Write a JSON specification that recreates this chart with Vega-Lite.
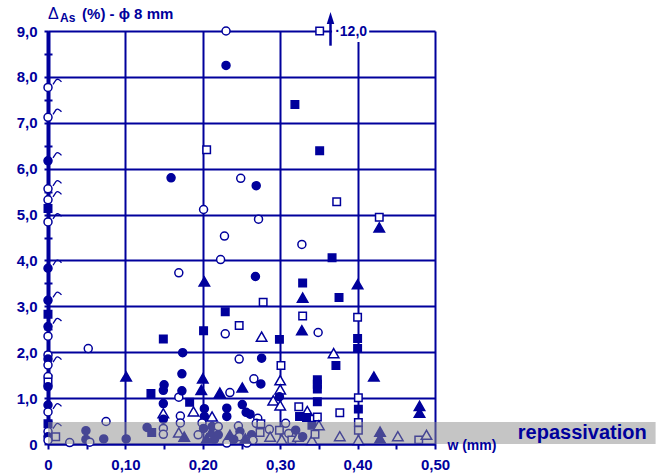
{
  "$schema": "https://vega.github.io/schema/vega-lite/v6.json",
  "width": 387,
  "height": 413,
  "autosize": "none",
  "padding": {"left": 48, "top": 31, "right": 224, "bottom": 31},
  "background": "white",
  "config": {"view": {"stroke": null}, "font": "Liberation Sans"},
  "datasets": {
    "pts": [
      {"w":0,"d":7.77,"form":"circle","fill":"hollow","hook":true},
      {"w":0,"d":7.12,"form":"circle","fill":"hollow","hook":true},
      {"w":0,"d":6.17,"form":"circle","fill":"solid","hook":true},
      {"w":0,"d":5.56,"form":"circle","fill":"hollow","hook":true},
      {"w":0,"d":5.32,"form":"circle","fill":"hollow","hook":true},
      {"w":0,"d":5.13,"form":"square","fill":"solid"},
      {"w":0,"d":4.84,"form":"circle","fill":"hollow","hook":true},
      {"w":0,"d":3.83,"form":"circle","fill":"solid","hook":true},
      {"w":0,"d":3.13,"form":"circle","fill":"solid","hook":true},
      {"w":0,"d":2.83,"form":"square","fill":"solid"},
      {"w":0,"d":2.56,"form":"circle","fill":"solid","hook":true},
      {"w":0,"d":2.35,"form":"circle","fill":"hollow"},
      {"w":0,"d":1.94,"form":"circle","fill":"hollow"},
      {"w":0,"d":1.85,"form":"circle","fill":"solid"},
      {"w":0,"d":1.72,"form":"circle","fill":"hollow","hook":true},
      {"w":0,"d":1.47,"form":"circle","fill":"hollow"},
      {"w":0,"d":1.35,"form":"square","fill":"hollow"},
      {"w":0,"d":1.25,"form":"circle","fill":"solid"},
      {"w":0,"d":0.85,"form":"circle","fill":"solid"},
      {"w":0,"d":0.70,"form":"circle","fill":"hollow","hook":true},
      {"w":0,"d":0.44,"form":"square","fill":"solid"},
      {"w":0,"d":0.27,"form":"circle","fill":"hollow","hook":true},
      {"w":0,"d":0.16,"form":"circle","fill":"solid"},
      {"w":0.01,"d":0.16,"form":"square","fill":"hollow"},
      {"w":0,"d":0.08,"form":"circle","fill":"hollow"},
      {"w":0.028,"d":0.03,"form":"circle","fill":"hollow"},
      {"w":0.049,"d":0.29,"form":"circle","fill":"solid"},
      {"w":0.049,"d":0.10,"form":"circle","fill":"solid"},
      {"w":0.054,"d":0.04,"form":"circle","fill":"hollow"},
      {"w":0.052,"d":2.08,"form":"circle","fill":"hollow"},
      {"w":0.075,"d":0.49,"form":"circle","fill":"hollow"},
      {"w":0.072,"d":0.11,"form":"circle","fill":"solid"},
      {"w":0.101,"d":0.11,"form":"circle","fill":"solid"},
      {"w":0.101,"d":1.47,"form":"triangle","fill":"solid"},
      {"w":0.128,"d":0.36,"form":"circle","fill":"solid"},
      {"w":0.134,"d":0.25,"form":"square","fill":"solid"},
      {"w":0.133,"d":1.10,"form":"square","fill":"solid"},
      {"w":0.149,"d":2.29,"form":"square","fill":"solid"},
      {"w":0.150,"d":1.29,"form":"circle","fill":"solid"},
      {"w":0.149,"d":1.17,"form":"circle","fill":"solid"},
      {"w":0.149,"d":0.88,"form":"circle","fill":"solid"},
      {"w":0.149,"d":0.67,"form":"triangle","fill":"hollow"},
      {"w":0.149,"d":0.54,"form":"circle","fill":"solid"},
      {"w":0.149,"d":0.34,"form":"circle","fill":"hollow"},
      {"w":0.149,"d":0.21,"form":"circle","fill":"hollow"},
      {"w":0.169,"d":1.02,"form":"circle","fill":"hollow"},
      {"w":0.169,"d":3.73,"form":"circle","fill":"hollow"},
      {"w":0.174,"d":1.99,"form":"circle","fill":"solid"},
      {"w":0.173,"d":1.53,"form":"circle","fill":"solid"},
      {"w":0.173,"d":1.16,"form":"circle","fill":"solid"},
      {"w":0.171,"d":0.61,"form":"circle","fill":"hollow"},
      {"w":0.171,"d":0.46,"form":"circle","fill":"hollow"},
      {"w":0.169,"d":0.25,"form":"triangle","fill":"hollow"},
      {"w":0.176,"d":0.16,"form":"triangle","fill":"solid"},
      {"w":0.183,"d":0.91,"form":"square","fill":"solid"},
      {"w":0.188,"d":0.71,"form":"triangle","fill":"hollow"},
      {"w":0.200,"d":1.43,"form":"triangle","fill":"solid"},
      {"w":0.198,"d":1.18,"form":"triangle","fill":"solid"},
      {"w":0.159,"d":5.80,"form":"circle","fill":"solid"},
      {"w":0.249,"d":5.79,"form":"circle","fill":"hollow"},
      {"w":0.269,"d":5.63,"form":"circle","fill":"solid"},
      {"w":0.205,"d":6.41,"form":"square","fill":"hollow"},
      {"w":0.351,"d":6.39,"form":"square","fill":"solid"},
      {"w":0.373,"d":5.28,"form":"square","fill":"hollow"},
      {"w":0.201,"d":5.11,"form":"circle","fill":"hollow"},
      {"w":0.428,"d":4.94,"form":"square","fill":"hollow"},
      {"w":0.428,"d":4.72,"form":"triangle","fill":"solid"},
      {"w":0.272,"d":4.90,"form":"circle","fill":"hollow"},
      {"w":0.228,"d":4.53,"form":"circle","fill":"hollow"},
      {"w":0.328,"d":4.35,"form":"circle","fill":"hollow"},
      {"w":0.367,"d":4.06,"form":"square","fill":"solid"},
      {"w":0.223,"d":4.02,"form":"circle","fill":"hollow"},
      {"w":0.319,"d":7.40,"form":"square","fill":"solid"},
      {"w":0.230,"d":8.25,"form":"circle","fill":"solid"},
      {"w":0.230,"d":9.00,"form":"circle","fill":"hollow"},
      {"w":0.351,"d":9.00,"form":"square","fill":"hollow"},
      {"w":0.268,"d":3.65,"form":"circle","fill":"solid"},
      {"w":0.202,"d":3.54,"form":"triangle","fill":"solid"},
      {"w":0.329,"d":3.51,"form":"square","fill":"solid"},
      {"w":0.400,"d":3.48,"form":"triangle","fill":"solid"},
      {"w":0.329,"d":3.19,"form":"triangle","fill":"solid"},
      {"w":0.376,"d":3.19,"form":"square","fill":"solid"},
      {"w":0.278,"d":3.09,"form":"square","fill":"hollow"},
      {"w":0.229,"d":2.88,"form":"square","fill":"solid"},
      {"w":0.329,"d":2.79,"form":"square","fill":"hollow"},
      {"w":0.400,"d":2.76,"form":"square","fill":"hollow"},
      {"w":0.201,"d":2.47,"form":"square","fill":"solid"},
      {"w":0.328,"d":2.48,"form":"triangle","fill":"solid"},
      {"w":0.247,"d":2.58,"form":"square","fill":"hollow"},
      {"w":0.229,"d":2.40,"form":"circle","fill":"hollow"},
      {"w":0.349,"d":2.43,"form":"circle","fill":"hollow"},
      {"w":0.276,"d":2.34,"form":"triangle","fill":"hollow"},
      {"w":0.299,"d":2.28,"form":"square","fill":"solid"},
      {"w":0.400,"d":2.30,"form":"square","fill":"solid"},
      {"w":0.400,"d":2.08,"form":"square","fill":"solid"},
      {"w":0.369,"d":1.98,"form":"triangle","fill":"hollow"},
      {"w":0.247,"d":1.85,"form":"circle","fill":"hollow"},
      {"w":0.276,"d":1.87,"form":"circle","fill":"solid"},
      {"w":0.372,"d":1.71,"form":"square","fill":"solid"},
      {"w":0.301,"d":1.71,"form":"square","fill":"hollow"},
      {"w":0.348,"d":1.40,"form":"square","fill":"solid"},
      {"w":0.348,"d":1.30,"form":"square","fill":"solid"},
      {"w":0.348,"d":1.20,"form":"square","fill":"solid"},
      {"w":0.421,"d":1.47,"form":"triangle","fill":"solid"},
      {"w":0.266,"d":1.42,"form":"circle","fill":"hollow"},
      {"w":0.275,"d":1.31,"form":"circle","fill":"solid"},
      {"w":0.300,"d":1.39,"form":"triangle","fill":"hollow"},
      {"w":0.300,"d":1.19,"form":"triangle","fill":"hollow"},
      {"w":0.222,"d":1.12,"form":"triangle","fill":"solid"},
      {"w":0.251,"d":1.23,"form":"triangle","fill":"solid"},
      {"w":0.235,"d":1.12,"form":"circle","fill":"hollow"},
      {"w":0.299,"d":1.03,"form":"circle","fill":"solid"},
      {"w":0.291,"d":0.95,"form":"triangle","fill":"hollow"},
      {"w":0.300,"d":0.84,"form":"triangle","fill":"hollow"},
      {"w":0.324,"d":0.81,"form":"square","fill":"hollow"},
      {"w":0.335,"d":0.72,"form":"triangle","fill":"hollow"},
      {"w":0.348,"d":0.92,"form":"square","fill":"solid"},
      {"w":0.325,"d":0.60,"form":"square","fill":"solid"},
      {"w":0.334,"d":0.58,"form":"square","fill":"solid"},
      {"w":0.348,"d":0.59,"form":"square","fill":"hollow"},
      {"w":0.377,"d":0.68,"form":"square","fill":"hollow"},
      {"w":0.401,"d":1.01,"form":"square","fill":"hollow"},
      {"w":0.401,"d":0.76,"form":"square","fill":"solid"},
      {"w":0.401,"d":0.47,"form":"square","fill":"hollow"},
      {"w":0.401,"d":0.30,"form":"square","fill":"hollow"},
      {"w":0.401,"d":0.09,"form":"triangle","fill":"hollow"},
      {"w":0.377,"d":0.17,"form":"triangle","fill":"hollow"},
      {"w":0.202,"d":0.77,"form":"circle","fill":"solid"},
      {"w":0.202,"d":0.60,"form":"circle","fill":"solid"},
      {"w":0.212,"d":0.60,"form":"triangle","fill":"hollow"},
      {"w":0.231,"d":0.78,"form":"circle","fill":"solid"},
      {"w":0.231,"d":0.60,"form":"circle","fill":"solid"},
      {"w":0.251,"d":0.86,"form":"circle","fill":"solid"},
      {"w":0.256,"d":0.69,"form":"circle","fill":"solid"},
      {"w":0.261,"d":0.65,"form":"circle","fill":"solid"},
      {"w":0.271,"d":0.56,"form":"circle","fill":"hollow"},
      {"w":0.307,"d":0.45,"form":"circle","fill":"hollow"},
      {"w":0.341,"d":0.41,"form":"square","fill":"solid"},
      {"w":0.350,"d":0.41,"form":"triangle","fill":"hollow"},
      {"w":0.480,"d":0.83,"form":"triangle","fill":"solid"},
      {"w":0.480,"d":0.68,"form":"triangle","fill":"solid"},
      {"w":0.429,"d":0.27,"form":"triangle","fill":"solid"},
      {"w":0.429,"d":0.12,"form":"triangle","fill":"solid"},
      {"w":0.452,"d":0.17,"form":"triangle","fill":"hollow"},
      {"w":0.479,"d":0.09,"form":"square","fill":"hollow"},
      {"w":0.489,"d":0.20,"form":"triangle","fill":"hollow"},
      {"w":0.194,"d":0.20,"form":"circle","fill":"hollow"},
      {"w":0.199,"d":0.46,"form":"circle","fill":"hollow"},
      {"w":0.201,"d":0.34,"form":"circle","fill":"solid"},
      {"w":0.211,"d":0.27,"form":"triangle","fill":"solid"},
      {"w":0.212,"d":0.38,"form":"circle","fill":"solid"},
      {"w":0.220,"d":0.38,"form":"circle","fill":"hollow"},
      {"w":0.220,"d":0.20,"form":"circle","fill":"solid"},
      {"w":0.231,"d":0.02,"form":"circle","fill":"hollow"},
      {"w":0.235,"d":0.20,"form":"triangle","fill":"solid"},
      {"w":0.246,"d":0.39,"form":"circle","fill":"hollow"},
      {"w":0.248,"d":0.27,"form":"circle","fill":"solid"},
      {"w":0.247,"d":0.16,"form":"circle","fill":"hollow"},
      {"w":0.263,"d":0.20,"form":"circle","fill":"solid"},
      {"w":0.257,"d":0.02,"form":"circle","fill":"hollow"},
      {"w":0.269,"d":0.45,"form":"circle","fill":"hollow"},
      {"w":0.274,"d":0.25,"form":"square","fill":"hollow"},
      {"w":0.275,"d":0.44,"form":"square","fill":"hollow"},
      {"w":0.286,"d":0.32,"form":"circle","fill":"hollow"},
      {"w":0.287,"d":0.16,"form":"triangle","fill":"hollow"},
      {"w":0.299,"d":0.30,"form":"square","fill":"hollow"},
      {"w":0.302,"d":0.10,"form":"triangle","fill":"hollow"},
      {"w":0.311,"d":0.23,"form":"circle","fill":"hollow"},
      {"w":0.315,"d":0.09,"form":"square","fill":"hollow"},
      {"w":0.320,"d":0.30,"form":"circle","fill":"solid"},
      {"w":0.323,"d":0.16,"form":"triangle","fill":"hollow"},
      {"w":0.329,"d":0.16,"form":"circle","fill":"solid"},
      {"w":0.341,"d":0.09,"form":"triangle","fill":"hollow"},
      {"w":0.345,"d":0.21,"form":"square","fill":"hollow"},
      {"w":0.215,"d":0.10,"form":"circle","fill":"solid"},
      {"w":0.205,"d":0.12,"form":"triangle","fill":"solid"},
      {"w":0.240,"d":0.10,"form":"circle","fill":"solid"},
      {"w":0.265,"d":0.08,"form":"circle","fill":"hollow"},
      {"w":0.255,"d":0.12,"form":"triangle","fill":"solid"}
    ]
  },
  "layer": [
    {
      "data": {"name": "pts"},
      "mark": {"type": "point", "filled": true, "stroke": "#00009c", "strokeWidth": 1.5, "opacity": 1},
      "encoding": {
        "x": {"field": "w", "type": "quantitative",
          "scale": {"domain": [0, 0.5], "nice": false, "zero": false},
          "axis": {"values": [0, 0.05, 0.1, 0.15, 0.2, 0.25, 0.3, 0.35, 0.4, 0.45, 0.5], "title": null,
            "grid": true, "gridColor": "#00009c", "gridWidth": 2,
            "gridOpacity": {"condition": {"test": "round(datum.value*100) % 10 != 0", "value": 0}, "value": 1},
            "domainColor": "#00009c", "domainWidth": 2, "tickColor": "#00009c", "tickWidth": 2, "tickSize": 5,
            "labelExpr": "round(datum.value*100) % 10 != 0 ? '' : (datum.value == 0 ? '0' : replace(format(datum.value, '.2f'), '.', ','))",
            "labelColor": "#00009c", "labelFont": "Liberation Sans", "labelFontWeight": "bold", "labelFontSize": 15,
            "labelPadding": 8, "labelFlush": false, "labelOverlap": false}},
        "y": {"field": "d", "type": "quantitative",
          "scale": {"domain": [0, 9], "nice": false, "zero": false},
          "axis": {"values": [0, 1, 2, 3, 4, 5, 6, 7, 8, 9], "title": null,
            "grid": true, "gridColor": "#00009c", "gridWidth": 2,
            "domainColor": "#00009c", "domainWidth": 4, "tickColor": "#00009c", "tickWidth": 2, "tickSize": 4,
            "labelExpr": "datum.value == 0 ? '0' : replace(format(datum.value, '.1f'), '.', ',')",
            "labelColor": "#00009c", "labelFont": "Liberation Sans", "labelFontWeight": "bold", "labelFontSize": 15,
            "labelPadding": 7, "labelOverlap": false}},
        "shape": {"field": "form", "type": "nominal", "scale": {"domain": ["circle", "square", "triangle"], "range": ["circle", "square", "triangle-up"]}, "legend": null},
        "fill": {"field": "fill", "type": "nominal", "scale": {"domain": ["solid", "hollow"], "range": ["#00009c", "#ffffff"]}, "legend": null},
        "size": {"field": "form", "type": "ordinal", "scale": {"type": "ordinal", "domain": ["circle", "square", "triangle"], "range": [64, 56, 110]}, "legend": null}
      }
    },
    {
      "data": {"name": "pts"},
      "transform": [{"filter": "datum.hook === true"}],
      "mark": {"type": "point", "shape": "M 1 -0.6 L 1.6 -1.5 Q 2 -1.9 2.7 -1.1", "filled": false, "stroke": "#00009c", "strokeWidth": 1.3, "size": 100, "opacity": 1},
      "encoding": {
        "x": {"field": "w", "type": "quantitative", "scale": {"domain": [0, 0.5], "nice": false, "zero": false}, "axis": null},
        "y": {"field": "d", "type": "quantitative", "scale": {"domain": [0, 9], "nice": false, "zero": false}, "axis": null}
      }
    },
    {
      "data": {"values": [{"x": 0, "x2": 0.785, "y": 0, "y2": 0.48}]},
      "mark": {"type": "rect", "color": "#8c8c8c", "opacity": 0.5},
      "encoding": {
        "x": {"field": "x", "type": "quantitative", "scale": {"domain": [0, 0.5], "nice": false, "zero": false}, "axis": null},
        "x2": {"field": "x2"},
        "y": {"field": "y", "type": "quantitative", "scale": {"domain": [0, 9], "nice": false, "zero": false},
          "axis": {"orient": "left", "values": [0.5, 1.5, 2.5, 3.5, 4.5, 5.5, 6.5, 7.5, 8.5], "offset": -4, "tickSize": 8, "tickWidth": 2, "tickColor": "#00009c", "domain": false, "labels": false, "grid": false, "title": null}},
        "y2": {"field": "y2"}
      }
    },
    {
      "data": {"values": [{"x": 0.367, "x2": 0.415, "y": 8.76, "y2": 9.19}]},
      "mark": {"type": "rect", "color": "#ffffff"},
      "encoding": {
        "x": {"field": "x", "type": "quantitative", "scale": {"domain": [0, 0.5], "nice": false, "zero": false}, "axis": null},
        "x2": {"field": "x2"},
        "y": {"field": "y", "type": "quantitative", "scale": {"domain": [0, 9], "nice": false, "zero": false}, "axis": null},
        "y2": {"field": "y2"}
      }
    },
    {
      "data": {"values": [{"x": 0.365, "y": 8.68, "y2": 9.2}]},
      "mark": {"type": "rule", "color": "#00009c", "strokeWidth": 2.5},
      "encoding": {
        "x": {"field": "x", "type": "quantitative", "scale": {"domain": [0, 0.5], "nice": false, "zero": false}, "axis": null},
        "y": {"field": "y", "type": "quantitative", "scale": {"domain": [0, 9], "nice": false, "zero": false}, "axis": null},
        "y2": {"field": "y2"}
      }
    },
    {
      "data": {"values": [{"x": 0.365, "y": 9.24}]},
      "mark": {"type": "point", "shape": "M 0 -1.6 L -0.75 0.8 L 0.75 0.8 Z", "filled": true, "color": "#00009c", "size": 100, "opacity": 1},
      "encoding": {
        "x": {"field": "x", "type": "quantitative", "scale": {"domain": [0, 0.5], "nice": false, "zero": false}, "axis": null},
        "y": {"field": "y", "type": "quantitative", "scale": {"domain": [0, 9], "nice": false, "zero": false}, "axis": null}
      }
    },
    {
      "data": {"values": [{"x": 0.371, "y": 8.98, "t": "·12,0"}]},
      "mark": {"type": "text", "align": "left", "baseline": "middle", "font": "Liberation Sans", "fontWeight": "bold", "fontSize": 14, "color": "#00009c"},
      "encoding": {
        "x": {"field": "x", "type": "quantitative", "scale": {"domain": [0, 0.5], "nice": false, "zero": false}, "axis": null},
        "y": {"field": "y", "type": "quantitative", "scale": {"domain": [0, 9], "nice": false, "zero": false}, "axis": null},
        "text": {"field": "t"}
      }
    },
    {
      "data": {"values": [{"x": 0, "y": 9.26, "t": "Δ"}]},
      "mark": {"type": "text", "align": "left", "baseline": "alphabetic", "font": "Liberation Sans", "fontSize": 16, "color": "#00009c"},
      "encoding": {
        "x": {"field": "x", "type": "quantitative", "scale": {"domain": [0, 0.5], "nice": false, "zero": false}, "axis": null},
        "y": {"field": "y", "type": "quantitative", "scale": {"domain": [0, 9], "nice": false, "zero": false}, "axis": null},
        "text": {"field": "t"}
      }
    },
    {
      "data": {"values": [{"x": 0.0155, "y": 9.19, "t": "As"}]},
      "mark": {"type": "text", "align": "left", "baseline": "alphabetic", "font": "Liberation Sans", "fontWeight": "bold", "fontSize": 12, "color": "#00009c"},
      "encoding": {
        "x": {"field": "x", "type": "quantitative", "scale": {"domain": [0, 0.5], "nice": false, "zero": false}, "axis": null},
        "y": {"field": "y", "type": "quantitative", "scale": {"domain": [0, 9], "nice": false, "zero": false}, "axis": null},
        "text": {"field": "t"}
      }
    },
    {
      "data": {"values": [{"x": 0.044, "y": 9.27, "t": "(%) - ϕ   8 mm"}]},
      "mark": {"type": "text", "align": "left", "baseline": "alphabetic", "font": "Liberation Sans", "fontWeight": "bold", "fontSize": 15, "color": "#00009c"},
      "encoding": {
        "x": {"field": "x", "type": "quantitative", "scale": {"domain": [0, 0.5], "nice": false, "zero": false}, "axis": null},
        "y": {"field": "y", "type": "quantitative", "scale": {"domain": [0, 9], "nice": false, "zero": false}, "axis": null},
        "text": {"field": "t"}
      }
    },
    {
      "data": {"values": [{"x": 0.516, "y": -0.05, "t": "w (mm)"}]},
      "mark": {"type": "text", "align": "left", "baseline": "middle", "font": "Liberation Sans", "fontWeight": "bold", "fontSize": 14, "color": "#00009c"},
      "encoding": {
        "x": {"field": "x", "type": "quantitative", "scale": {"domain": [0, 0.5], "nice": false, "zero": false}, "axis": null},
        "y": {"field": "y", "type": "quantitative", "scale": {"domain": [0, 9], "nice": false, "zero": false}, "axis": null},
        "text": {"field": "t"}
      }
    },
    {
      "data": {"values": [{"x": 0.607, "y": 0.24, "t": "repassivation"}]},
      "mark": {"type": "text", "align": "left", "baseline": "middle", "font": "Liberation Sans", "fontWeight": "bold", "fontSize": 20, "color": "#00009c"},
      "encoding": {
        "x": {"field": "x", "type": "quantitative", "scale": {"domain": [0, 0.5], "nice": false, "zero": false}, "axis": null},
        "y": {"field": "y", "type": "quantitative", "scale": {"domain": [0, 9], "nice": false, "zero": false}, "axis": null},
        "text": {"field": "t"}
      }
    }
  ],
  "resolve": {"axis": {"x": "independent", "y": "independent"}}
}
